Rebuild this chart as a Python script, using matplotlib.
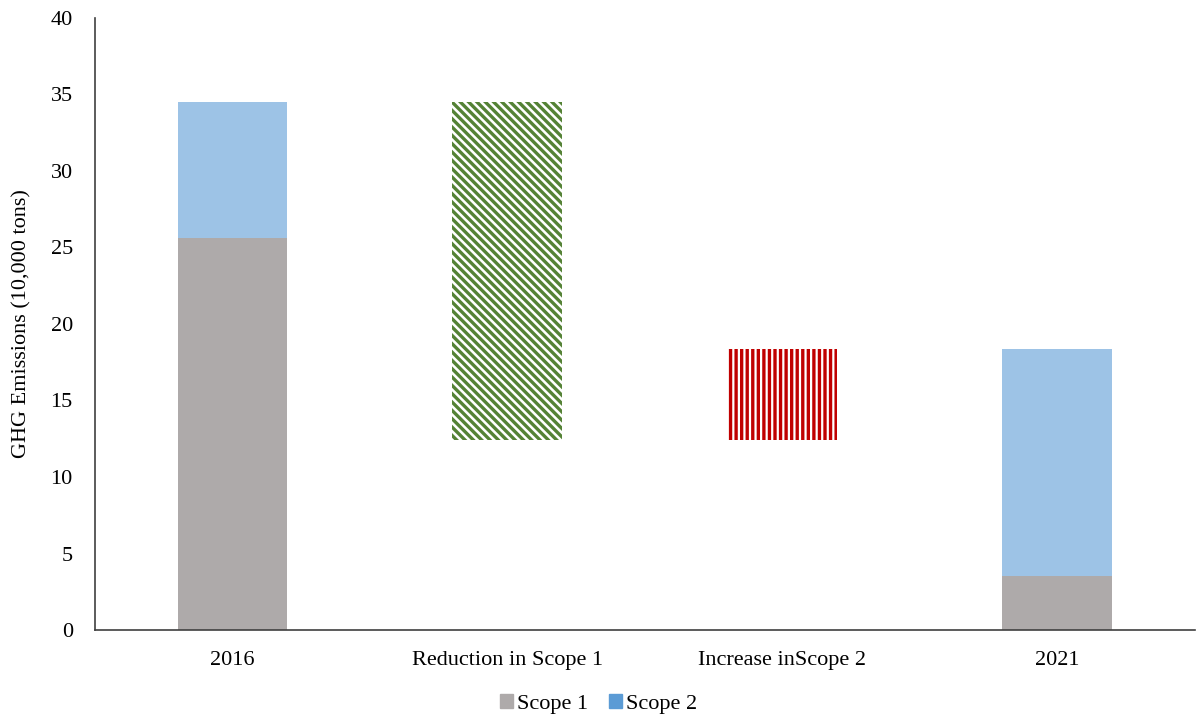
import matplotlib.pyplot as plt
from matplotlib.patches import Patch

plt.rcParams['font.family'] = ['Liberation Serif', 'DejaVu Serif']
plt.rcParams['hatch.linewidth'] = 2.4

categories = ['2016', 'Reduction in Scope 1', 'Increase inScope 2', '2021']
scope1 = [25.6, 3.5]      # 2016, 2021
scope2 = [8.9, 14.85]     # 2016, 2021

reduction = scope1[0] - scope1[1]
increase = scope2[1] - scope2[0]
total_2016 = scope1[0] + scope2[0]

c_s1 = '#AEAAAA'
c_s2 = '#9DC3E6'

fig = plt.figure(figsize=(11.97, 7.17), dpi=100)
ax = fig.add_axes([0.0794, 0.1213, 0.9186, 0.8537])

w = 0.4
x = range(len(categories))

# 2016 stacked
ax.bar(0, scope1[0], width=w, color=c_s1)
ax.bar(0, scope2[0], width=w, bottom=scope1[0], color=c_s2)

# reduction in scope 1 (floating)
ax.bar(1, reduction, width=w, bottom=total_2016 - reduction,
       facecolor='white', edgecolor='#548235', hatch='\\\\\\\\', linewidth=0)

# increase in scope 2 (floating)
ax.bar(2, increase, width=w, bottom=total_2016 - reduction,
       facecolor='white', edgecolor='#C00000', hatch='|||', linewidth=0)

# 2021 stacked
ax.bar(3, scope1[1], width=w, color=c_s1)
ax.bar(3, scope2[1], width=w, bottom=scope1[1], color=c_s2)

ax.set_xlim(-0.5, 3.5)
ax.set_ylim(0, 40)
ax.set_yticks(range(0, 41, 5))
ax.set_xticks(list(x))
ax.set_xticklabels(categories)
ax.tick_params(length=0, labelsize=16)
ax.tick_params(axis='y', pad=16)
ax.tick_params(axis='x', pad=15)
ax.set_ylabel('GHG Emissions (10,000 tons)', fontsize=16, labelpad=14)

for s in ['top', 'right']:
    ax.spines[s].set_visible(False)
for s in ['left', 'bottom']:
    ax.spines[s].set_color('#404040')
    ax.spines[s].set_linewidth(1.2)

handles = [Patch(color=c_s1, label='Scope 1'), Patch(color='#5B9BD5', label='Scope 2')]
fig.legend(handles=handles, loc='center', bbox_to_anchor=(0.5, 0.018), ncol=2,
           frameon=False, fontsize=16, handlelength=0.6, handleheight=0.6,
           handletextpad=0.2, columnspacing=0.9)

fig.savefig('out.png', dpi=100)
